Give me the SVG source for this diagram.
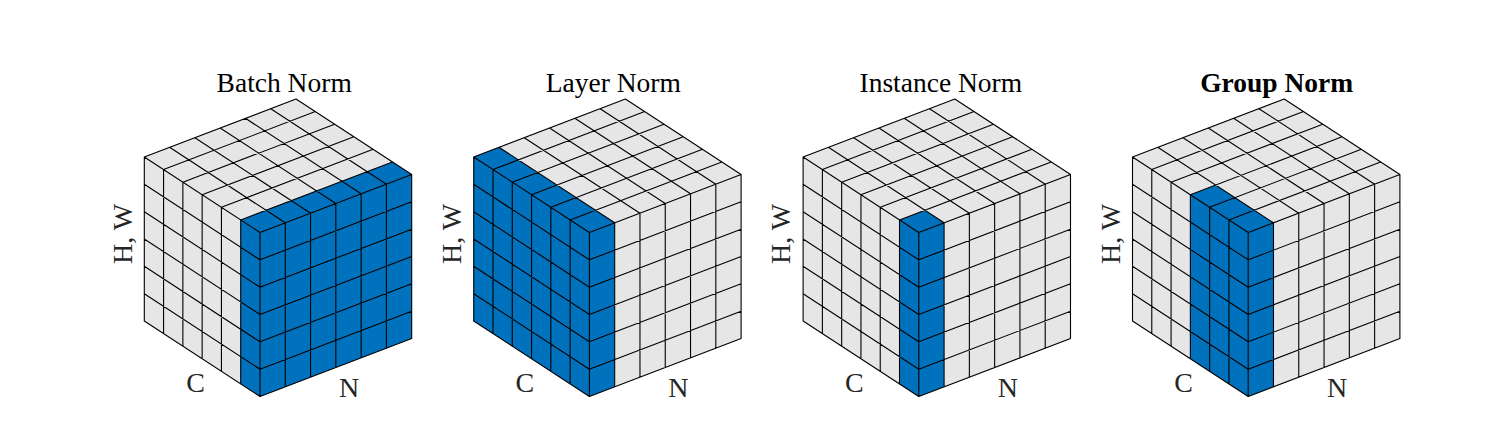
<svg xmlns="http://www.w3.org/2000/svg" xmlns:xlink="http://www.w3.org/1999/xlink" width="1498" height="438" viewBox="0 0 1498 438">
<style>
.face{fill:#e6e6e6;stroke:none}
.blue{fill:#0072bd;stroke:none}
.grid{fill:none;stroke:#000;stroke-width:1.1;stroke-linejoin:round;stroke-linecap:round}
.title{font-family:"Liberation Serif","Times New Roman",serif;font-size:27.5px;fill:#000;text-anchor:middle}
.bold{font-weight:bold}
.ax{font-family:"Liberation Serif","Times New Roman",serif;font-size:28px;fill:#262626;text-anchor:middle}
</style>
<defs>
<g id="faces">
<polygon class="face" points="0,0 -115.7,-75.5 -115.7,-239.5 0,-164"/>
<polygon class="face" points="0,0 151.7,-58 151.7,-222 0,-164"/>
<polygon class="face" points="0,-164 -115.7,-239.5 36,-297.5 151.7,-222"/>
</g>
<path id="grid" class="grid" d="
M0,0 V-164 M-19.28,-12.58 V-176.58 M-38.57,-25.17 V-189.17 M-57.85,-37.75 V-201.75 M-77.13,-50.33 V-214.33 M-96.42,-62.92 V-226.92 M-115.7,-75.5 V-239.5
M0,0 L-115.7,-75.5 M0,-27.33 L-115.7,-102.83 M0,-54.67 L-115.7,-130.17 M0,-82 L-115.7,-157.5 M0,-109.33 L-115.7,-184.83 M0,-136.67 L-115.7,-212.17 M0,-164 L-115.7,-239.5
M25.28,-9.67 V-173.67 M50.57,-19.33 V-183.33 M75.85,-29 V-193 M101.13,-38.67 V-202.67 M126.42,-48.33 V-212.33 M151.7,-58 V-222
M0,0 L151.7,-58 M0,-27.33 L151.7,-85.33 M0,-54.67 L151.7,-112.67 M0,-82 L151.7,-140 M0,-109.33 L151.7,-167.33 M0,-136.67 L151.7,-194.67 M0,-164 L151.7,-222
M-19.28,-176.58 L132.42,-234.58 M-38.57,-189.17 L113.13,-247.17 M-57.85,-201.75 L93.85,-259.75 M-77.13,-214.33 L74.57,-272.33 M-96.42,-226.92 L55.28,-284.92 M-115.7,-239.5 L36,-297.5
M25.28,-173.67 L-90.42,-249.17 M50.57,-183.33 L-65.13,-258.83 M75.85,-193 L-39.85,-268.5 M101.13,-202.67 L-14.57,-278.17 M126.42,-212.33 L10.72,-287.83 M151.7,-222 L36,-297.5"/>
</defs>

<g id="batch-norm">
<text class="title" x="284.2" y="91.5">Batch Norm</text>
<g transform="translate(260,396.5)">
<use xlink:href="#faces" href="#faces"/>
<polygon class="blue" points="0,0 -19.28,-12.58 -19.28,-176.58 0,-164"/>
<polygon class="blue" points="0,0 151.7,-58 151.7,-222 0,-164"/>
<polygon class="blue" points="0,-164 -19.28,-176.58 132.42,-234.58 151.7,-222"/>
<use xlink:href="#grid" href="#grid"/>
<text class="ax" x="-64.5" y="-4.5">C</text>
<text class="ax" x="89" y="0">N</text>
<text class="ax" transform="translate(-128.5,-162.5) rotate(-90)" x="0" y="0">H, W</text>
</g>
</g>

<g id="layer-norm">
<text class="title" x="613.3" y="91.5">Layer Norm</text>
<g transform="translate(589.4,396.5)">
<use xlink:href="#faces" href="#faces"/>
<polygon class="blue" points="0,0 -115.7,-75.5 -115.7,-239.5 0,-164"/>
<polygon class="blue" points="0,0 25.28,-9.67 25.28,-173.67 0,-164"/>
<polygon class="blue" points="0,-164 25.28,-173.67 -90.42,-249.17 -115.7,-239.5"/>
<use xlink:href="#grid" href="#grid"/>
<text class="ax" x="-64.5" y="-4.5">C</text>
<text class="ax" x="89" y="0">N</text>
<text class="ax" transform="translate(-128.5,-162.5) rotate(-90)" x="0" y="0">H, W</text>
</g>
</g>

<g id="instance-norm">
<text class="title" x="940.8" y="91.5">Instance Norm</text>
<g transform="translate(918.8,396.5)">
<use xlink:href="#faces" href="#faces"/>
<polygon class="blue" points="0,0 -19.28,-12.58 -19.28,-176.58 0,-164"/>
<polygon class="blue" points="0,0 25.28,-9.67 25.28,-173.67 0,-164"/>
<polygon class="blue" points="0,-164 -19.28,-176.58 6,-186.25 25.28,-173.67"/>
<use xlink:href="#grid" href="#grid"/>
<text class="ax" x="-64.5" y="-4.5">C</text>
<text class="ax" x="89" y="0">N</text>
<text class="ax" transform="translate(-128.5,-162.5) rotate(-90)" x="0" y="0">H, W</text>
</g>
</g>

<g id="group-norm">
<text class="title bold" x="1276.7" y="91.5">Group Norm</text>
<g transform="translate(1248.2,396.5)">
<use xlink:href="#faces" href="#faces"/>
<polygon class="blue" points="0,0 -57.85,-37.75 -57.85,-201.75 0,-164"/>
<polygon class="blue" points="0,0 25.28,-9.67 25.28,-173.67 0,-164"/>
<polygon class="blue" points="0,-164 -57.85,-201.75 -32.57,-211.42 25.28,-173.67"/>
<use xlink:href="#grid" href="#grid"/>
<text class="ax" x="-64.5" y="-4.5">C</text>
<text class="ax" x="89" y="0">N</text>
<text class="ax" transform="translate(-128.5,-162.5) rotate(-90)" x="0" y="0">H, W</text>
</g>
</g>
</svg>
